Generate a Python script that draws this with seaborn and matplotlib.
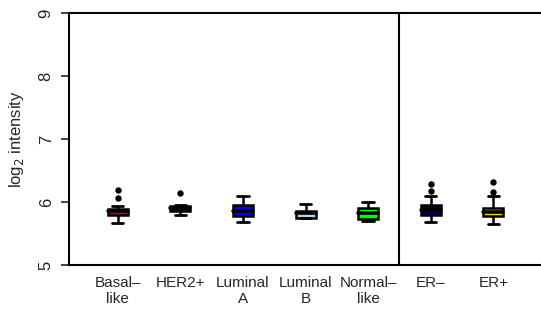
import pandas as pd
import matplotlib
matplotlib.use("Agg")
import matplotlib.pyplot as plt
import seaborn as sns

# %%
groups = ["Basal\u2013\nlike", "HER2+", "Luminal\nA", "Luminal\nB",
          "Normal\u2013\nlike", "ER\u2013", "ER+"]
colors = ["#E00000", "#111111", "#0000FF", "#ADD8E6", "#00FF00", "#00005A", "#FFD000"]

# five-number summaries: low whisker, q1, median, q3, high whisker
lo_whisk = [5.66, 5.80, 5.69, 5.74, 5.70, 5.69, 5.65]
q1 = [5.79, 5.85, 5.78, 5.75, 5.73, 5.80, 5.77]
median = [5.85, 5.90, 5.86, 5.82, 5.82, 5.87, 5.84]
q3 = [5.89, 5.94, 5.96, 5.85, 5.90, 5.95, 5.90]
hi_whisk = [5.93, 5.95, 6.10, 5.97, 6.00, 6.09, 6.10]
outliers = [[6.06, 6.19], [6.15], [], [], [], [6.18, 6.29], [6.16, 6.31]]

# %%
rows = []
for i, g in enumerate(groups):
    for v in (lo_whisk[i], q1[i], median[i], q3[i], hi_whisk[i]):
        rows.append(dict(group=g, value=v))
df = pd.DataFrame(rows)

out = pd.DataFrame([dict(group=g, value=v) for g, vals in zip(groups, outliers) for v in vals])

sns.set_theme(style="ticks")
plt.rcParams['font.family'] = ['Liberation Sans', 'DejaVu Sans']
plt.rcParams['font.size'] = 11

fig = plt.figure(figsize=(5.41, 3.16), dpi=100)
ax = fig.add_axes([69 / 541, 1 - 265 / 316, 1 - 69 / 541 + 0.002, 252 / 316])

sns.boxplot(data=df, x="group", y="value", hue="group", order=groups,
            hue_order=groups, palette=colors, saturation=1, legend=False,
            width=0.32, whis=(0, 100), linecolor="black", linewidth=1.8,
            fliersize=0, ax=ax,
            medianprops=dict(linewidth=2.6, solid_capstyle="round"),
            capprops=dict(linewidth=2),
            capwidths=0.18)
sns.stripplot(data=out, x="group", y="value", order=groups, color="black",
              jitter=False, size=4.6, ax=ax)

ax.axvline(4.5, color="black", lw=1.5)
ax.set_xlim(-0.78, 6.78)
ax.set_ylim(5, 9)
ax.set_yticks([5, 6, 7, 8, 9])
ax.set_xlabel("")
ax.set_ylabel("log$_2$ intensity", fontsize=12, labelpad=9)
for lab in ax.get_yticklabels():
    lab.set_rotation(90)
    lab.set_va("center")
ax.tick_params(axis="y", length=6, width=1.2, pad=5, labelsize=12)
ax.tick_params(axis="x", length=0, pad=8, labelsize=11)
for s in ax.spines.values():
    s.set_linewidth(1.5)
    s.set_color("black")

fig.savefig("out.png", dpi=100)
